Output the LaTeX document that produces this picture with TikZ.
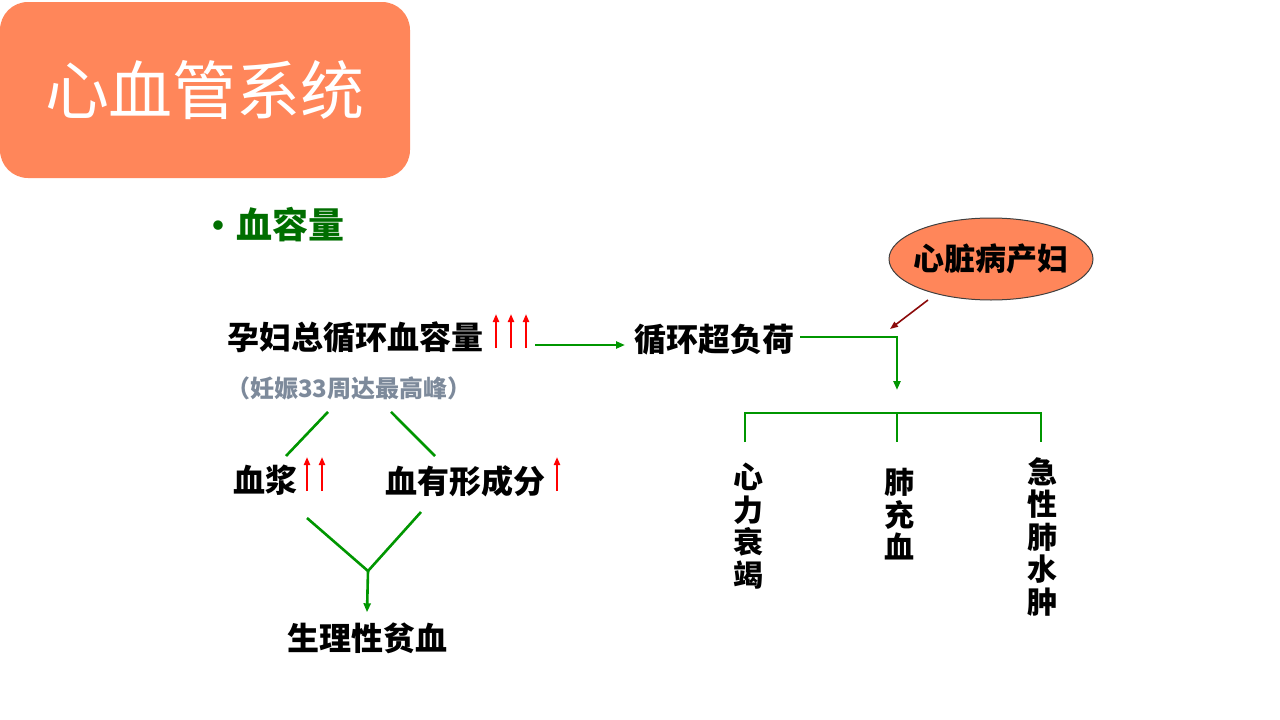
\documentclass[tikz,border=0pt]{standalone}
\usepackage{fontspec}
\setmainfont{Noto Sans CJK SC}
\newfontfamily\cjk{Noto Sans CJK SC}
\usetikzlibrary{arrows.meta, shapes.geometric, positioning}
\definecolor{coral}{RGB}{255,134,90}
\definecolor{lgreen}{RGB}{0,150,0}
\definecolor{dgreen}{RGB}{0,110,0}
\definecolor{slate}{RGB}{125,138,155}
\definecolor{maroon}{RGB}{140,10,10}
\tikzstyle{arrow} = [line width=2.6pt, draw=lgreen, -{Triangle[length=9pt,width=7pt]}]
\tikzstyle{link} = [line width=2.6pt, draw=lgreen]
\tikzstyle{uparrow} = [line width=2.2pt, draw=red, -{Triangle[length=8pt,width=6pt]}]
\tikzstyle{term} = [font=\cjk\bfseries\fontsize{32}{34}\selectfont, inner sep=0pt]
\tikzstyle{vterm} = [term, align=center, font=\cjk\bfseries\fontsize{30}{32.5}\selectfont]
\tikzset{
titlebox/.style = {rectangle, rounded corners=28pt, fill=coral,
	minimum width=410pt, minimum height=176pt, text=white,
	font=\cjk\fontsize{64}{66}\selectfont},
patient/.style = {ellipse, draw=black!75, line width=1pt, fill=coral, inner sep=0pt,
	minimum width=204pt, minimum height=82pt,
	font=\cjk\bfseries\fontsize{31}{33}\selectfont}
}

\begin{document}
\begin{tikzpicture}[x=1pt, y=-1pt]
\useasboundingbox (0,0) rectangle (1280,720);
\fill[white] (0,0) rectangle (1280,720);
%----------------------------------------------------------------------------
% Heading
\node (title) [titlebox] at (205,90) {心血管系统};
\node (bullet) [anchor=west, inner sep=0pt, text=dgreen, font=\cjk\bfseries\fontsize{36}{38}\selectfont]
	at (201,225) {{\fontsize{34}{34}\selectfont •}\hspace{1pt}血容量};

%----------------------------------------------------------------------------
% Left branch
\node (total) [term, anchor=west] at (227,337) {孕妇总循环血容量};
\node (peak) [term, anchor=west, text=slate, font=\cjk\bfseries\fontsize{24}{26}\selectfont]
	at (226,388) {（妊娠33周达最高峰）};
\node (plasma) [term, anchor=west] at (233,480) {血浆};
\node (cells) [term, anchor=west] at (385,481) {血有形成分};
\node (anemia) [term] at (367,638) {生理性贫血};

%----------------------------------------------------------------------------
% Right branch
\node (overload) [term, anchor=west] at (634,340) {循环超负荷};
\node (cardiac) [patient] at (991,259) {\makebox[0pt]{心脏病产妇}};
\node (failure) [vterm, anchor=north] at (748,463) {心\\力\\衰\\竭};
\node (congest) [vterm, anchor=north] at (899,468) {肺\\充\\血};
\node (edema) [vterm, anchor=north] at (1042,457) {急\\性\\肺\\水\\肿};

%----------------------------------------------------------------------------
% Red marks
\foreach \x in {496,511,526}
	\draw [uparrow] (\x,348) -- (\x,314);
\foreach \x in {307,322,557}
	\draw [uparrow] (\x,491) -- (\x,457);

%----------------------------------------------------------------------------
% Lines
\coordinate (outA) at (535,345);
\draw [arrow] (outA) -- ([xshift=-9pt]overload.west |- outA);

\coordinate (plasmaTop) at (286,456);
\coordinate (cellsTop) at (435,456);
\draw [link] (peak.south -| 328,0) ++(0,12) -- (plasmaTop);
\draw [link] (peak.south -| 391,0) ++(0,12) -- (cellsTop);

\coordinate (join) at (368,571);
\draw [link] (307,518) -- (join);
\draw [link] (421,512) -- (join);
\draw [arrow] (join) -- ([yshift=10pt]anemia.north);

\coordinate (corner) at (897,337);
\coordinate (split) at (897,413);
\draw [arrow] ([xshift=6pt]overload.east |- corner) -- (corner) -- (897,390);
\draw [link] (745,442) -- (745,413) -- (1041,413) -- (1041,442);
\draw [link] (split) -- (897,442);

\coordinate (hint) at (890,329);
\draw [line width=1.6pt, draw=maroon, -{Triangle[length=8pt,width=6pt]}] (928,300) -- (hint);
\end{tikzpicture}
\end{document}
